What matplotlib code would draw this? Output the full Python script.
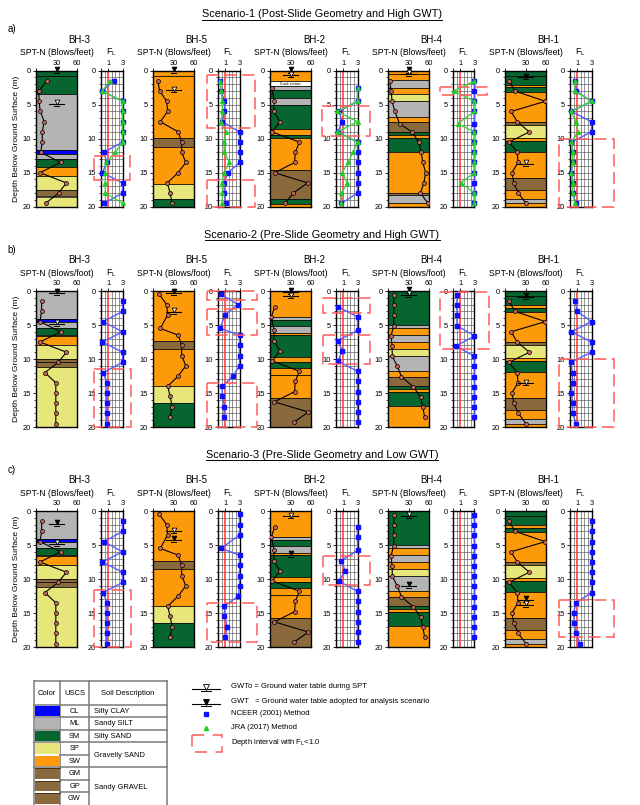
import matplotlib
matplotlib.use("Agg")
import matplotlib.pyplot as plt
import matplotlib.transforms as mtransforms
from matplotlib.patches import Rectangle

plt.rcParams['font.family'] = ['Liberation Sans', 'DejaVu Sans']

# ---------------- data ----------------
boreholes = ['BH-3', 'BH-5', 'BH-2', 'BH-4', 'BH-1']
scen_titles = ['Scenario-1 (Post-Slide Geometry and High GWT)',
               'Scenario-2 (Pre-Slide Geometry and High GWT)',
               'Scenario-3 (Pre-Slide Geometry and Low GWT)']
scen_tags = ['a)', 'b)', 'c)']
spt_units = ['SPT-N (Blows/feet)', 'SPT-N (Blows/foot)', 'SPT-N (Blows/feet)']

soil_colors = {'CL': '#0000ff', 'ML': '#b4b4b4', 'SM': '#076630', 'SP': '#e6e67a',
               'SW': '#fd9a0a', 'GM': '#8a6a3c', 'GP': '#8a6a3c', 'GW': '#8a6a3c',
               'CR': '#ffffff'}

# soil layers (top, bottom, USCS)
lay_bh3_post = [(0, 0.8, 'SM'), (0.8, 3.4, 'SM'), (3.4, 11.7, 'ML'), (11.7, 12.2, 'CL'),
                (12.2, 13.0, 'ML'), (13.0, 14.2, 'SM'), (14.2, 15.5, 'SW'), (15.5, 17.5, 'SP'),
                (17.5, 18.5, 'GM'), (18.5, 20, 'SP')]
lay_bh5_post = [(0, 0.8, 'SW'), (0.8, 9.9, 'SW'), (9.9, 11.2, 'GM'), (11.2, 16.6, 'SW'),
                (16.6, 18.9, 'SP'), (18.9, 20, 'SM')]
lay_bh2_post = [(0, 1.5, 'SW'), (1.5, 2.3, 'CR'), (2.3, 2.8, 'ML'), (2.8, 4.0, 'SM'),
                (4.0, 5.0, 'ML'), (5.0, 8.6, 'SM'), (8.6, 9.5, 'SW'), (9.5, 9.9, 'SM'),
                (9.9, 14.6, 'SW'), (14.6, 18.8, 'GM'), (18.8, 19.6, 'SM'), (19.6, 20, 'SW')]
lay_bh4_post = [(0, 0.5, 'SW'), (0.5, 1.4, 'SW'), (1.4, 2.5, 'ML'), (2.5, 3.5, 'SW'),
                (3.5, 4.5, 'SP'), (4.5, 6.8, 'ML'), (6.8, 7.5, 'SW'), (7.5, 9.0, 'GM'),
                (9.0, 9.5, 'SM'), (9.5, 9.9, 'SW'), (9.9, 11.9, 'SM'), (11.9, 18.0, 'SW'),
                (18.0, 18.3, 'GM'), (18.3, 19.5, 'ML'), (19.5, 20, 'SW')]
lay_bh1 = [(0, 0.8, 'SM'), (0.8, 2.1, 'SM'), (2.1, 2.45, 'SW'), (2.45, 3.1, 'SM'),
           (3.1, 7.5, 'SW'), (7.5, 8.0, 'GM'), (8.0, 9.9, 'SP'), (9.9, 10.3, 'SW'),
           (10.3, 11.9, 'SM'), (11.9, 15.8, 'SW'), (15.8, 17.5, 'GM'), (17.5, 18.8, 'SW'),
           (18.8, 19.5, 'ML'), (19.5, 20, 'SW')]
lay_bh3_pre = [(0, 4.1, 'ML'), (4.1, 4.6, 'CL'), (4.6, 5.5, 'ML'), (5.5, 6.4, 'SM'),
               (6.4, 6.6, 'ML'), (6.6, 8.0, 'SW'), (8.0, 10.0, 'SP'), (10.0, 10.5, 'GM'),
               (10.5, 11.2, 'GM'), (11.2, 20, 'SP')]
lay_bh5_pre = [(0, 7.4, 'SW'), (7.4, 8.5, 'GM'), (8.5, 14.0, 'SW'), (14.0, 16.5, 'SP'),
               (16.5, 20, 'SM')]
lay_bh2_pre = [(0, 3.75, 'SW'), (3.75, 4.2, 'ML'), (4.2, 5.2, 'SM'), (5.2, 6.2, 'ML'),
               (6.2, 6.45, 'SW'), (6.45, 9.7, 'SM'), (9.7, 10.5, 'SW'), (10.5, 11.3, 'SM'),
               (11.3, 12.3, 'SW'), (12.3, 15.8, 'SW'), (15.8, 20, 'GM')]
lay_bh4_pre = [(0, 5.0, 'SM'), (5.0, 5.4, 'ML'), (5.4, 6.5, 'SW'), (6.5, 7.5, 'ML'),
               (7.5, 8.6, 'SW'), (8.6, 9.6, 'SP'), (9.6, 11.8, 'ML'), (11.8, 12.6, 'SW'),
               (12.6, 14.0, 'GM'), (14.0, 14.4, 'SM'), (14.4, 14.9, 'SW'), (14.9, 16.9, 'SM'),
               (16.9, 20, 'SW')]

# test depths (m)
d_std = [1.5, 3.0, 4.5, 6.0, 7.5, 9.0, 10.5, 12.0, 13.5, 15.0, 16.5, 18.0, 19.5]
d_bh2_post = [2.5, 4.5, 6.0, 7.5, 9.0, 10.5, 12.0, 13.5, 15.0, 16.5, 18.0, 19.5]
d_bh4_post = [1.5, 3.0, 4.5, 6.0, 7.8, 9.0, 10.5, 12.0, 13.5, 15.0, 16.5, 18.0, 19.5]
d_bh5_pre = [0.5, 2.0, 3.5, 5.5, 6.5, 8.0, 9.5, 11.0, 12.5, 14.0, 15.5, 17.0, 18.5]
d_bh2_pre = [2.3, 3.8, 5.8, 7.3, 8.8, 10.3, 11.8, 13.3, 14.8, 16.3, 17.8, 19.3]
d_bh4_pre = [0.6, 2.1, 3.6, 5.1, 6.6, 8.1, 9.6, 11.1, 12.6, 14.1, 15.6, 17.1, 18.6]

# SPT-N values
n_bh3_post = [15.5, 4.4, 4.4, 6.3, 12, 9.2, 9.2, 6.8, 36, 5.8, 44.5, 33, 14]
n_bh5_post = [6.8, 10, 20, 21.5, 10.7, 37, 42, 42, 48, 36.6, 21, 25, 28]
n_bh2_post = [2.4, 6.3, 5.4, 14.6, 3, 43, 37, 36, 6.8, 55, 34, 22]
n_bh4_post = [2.5, 4.5, 6, 10, 17, 35, 45, 48.5, 51, 55, 52.5, 47.5, 58.5]
n_bh1 = [5.9, 14.6, 59, 8.8, 18, 35.6, 5.9, 18, 19, 10, 13, 19.5, 30.7]
n_bh3_pre = [8.2, 8.2, 5.8, 36, 5.8, 44.5, 32.4, 13, 29, 29, 29, 29, 29]
n_bh5_pre = [9.3, 20, 21.5, 10.7, 37, 42, 42, 48, 37, 21.5, 25, 28, 25]
n_bh2_pre = [7, 2, 6, 5.6, 14.5, 3.5, 43, 37, 36, 6.5, 56, 35]
n_bh4_pre = [8.4, 8.4, 8.4, 8.4, 4.4, 5.9, 6.4, 13.8, 19.7, 37, 47.8, 51, 53.7]

# ground water tables (adopted GWT, GWTo during SPT), depth in m
gwt_a = [0.0, 0.0, 0.0, 0.0, 1.0]
gwto_a = [4.9, 2.9, 0.7, 0.5, 13.7]
gwt_b = [0.35, 0.35, 0.15, 0.0, 0.85]
gwto_b = [4.9, 3.1, 0.8, 0.6, 13.6]
gwt_c = [1.95, 4.3, 6.45, 11.0, 13.1]
gwto_c = [4.9, 3.0, 0.8, 0.7, 13.8]

# factor of safety FL  (NCEER / JRA)
ncer_a = [[1.75, 0.2, 3, 3, 3, 3, 3, 0.4, 0.8, 0.2, 3, 3, 0.4],
          [0.3, 0.45, 0.9, 0.9, 0.6, 3, 3, 3, 3, 1.4, 0.8, 0.9, 1.05],
          [3, 3, 0.4, 0.9, 0.25, 3, 3, 3, 3, 3, 3, 0.75],
          [3, 3, 3, 3, 3, 3, 3, 3, 3, 3, 3, 3, 3],
          [0.7, 0.85, 3, 0.2, 3, 3, 0.2, 0.35, 0.35, 0.2, 0.35, 0.35, 0.85]]
jra_a = [[1.2, 0.2, 3, 3, 3, 3, 3, 2.0, 0.7, 0.6, 0.6, 0.6, 3],
         [0.3, 0.45, 0.6, 0.6, 0.45, 1.15, 0.8, 0.9, 1.6, 0.8, 0.6, 0.6, 0.6],
         [3, 3, 0.2, 3, 0.2, 3, 2.35, 1.7, 0.85, 1.6, 0.75, 0.75],
         [3, 0.1, 3, 3, 0.65, 3, 3, 3, 3, 3, 1.1, 3, 3],
         [0.7, 0.7, 3, 0.1, 0.85, 1.1, 0.2, 0.35, 0.35, 0.2, 0.35, 0.35, 0.7]]
ncer_b = [[3, 3, 0.3, 3, 0.2, 3, 3, 0.3, 0.85, 0.8, 0.8, 0.8, 0.8],
          [0.45, 2.8, 0.95, 0.3, 3, 3, 3, 3, 2.1, 0.6, 0.6, 0.9, 0.8],
          [0.25, 3, 3, 0.25, 0.9, 0.25, 3, 3, 3, 3, 3, 3],
          [0.55, 0.55, 0.55, 0.55, 3, 0.4, 3, 3, 3, 3, 3, 3, 3],
          [0.7, 1.0, 3, 0.2, 3, 3, 0.1, 0.35, 0.35, 0.2, 0.35, 0.35, 0.85]]
ncer_c = [[3, 3, 0.4, 3, 0.2, 3, 3, 0.3, 0.85, 0.8, 0.8, 0.8, 0.8],
          [3, 3, 3, 0.45, 3, 3, 3, 3, 2.85, 0.9, 0.9, 1.3, 1.0],
          [3, 3, 3, 0.7, 1.3, 0.35, 3, 3, 3, 3, 3, 3],
          [3, 3, 3, 3, 3, 3, 3, 3, 3, 3, 3, 3, 3],
          [3, 3, 3, 3, 3, 3, 3, 3, 0.85, 0.5, 0.6, 0.85, 1.35]]

# depth intervals with FL<1.0 (top, bottom, FL left, FL right)
box_a = [[(12.6, 16.1, -0.95, 4.0)],
         [(0.6, 8.5, -1.6, 5.2), (16.1, 20.1, -1.6, 5.2)],
         [(5.2, 9.6, -1.9, 4.8)],
         [(2.45, 3.6, -1.8, 4.7)],
         [(10.1, 20.1, -1.5, 6.2)]]
box_b = [[(11.5, 20.0, -0.95, 4.2)],
         [(0.0, 1.3, -1.6, 5.5), (2.7, 6.4, -1.6, 5.5), (13.5, 20.0, -1.6, 5.5)],
         [(1.0, 3.25, -1.85, 4.7), (6.5, 10.7, -1.85, 4.7)],
         [(0.2, 8.5, -1.8, 5.0)],
         [(10.0, 20.0, -1.5, 6.2)]]
box_c = [[(11.6, 20.0, -0.95, 4.2)],
         [(13.5, 19.2, -1.6, 5.5)],
         [(6.55, 10.9, -1.85, 4.7)],
         [],
         [(13.1, 18.5, -1.5, 6.2)]]

# legend table
uscs_codes = ['CL', 'ML', 'SM', 'SP', 'SW', 'GM', 'GP', 'GW']

# ------------- per-row grouping -------------
layers_rows = [[lay_bh3_post, lay_bh5_post, lay_bh2_post, lay_bh4_post, lay_bh1],
               [lay_bh3_pre, lay_bh5_pre, lay_bh2_pre, lay_bh4_pre, lay_bh1],
               [lay_bh3_pre, lay_bh5_pre, lay_bh2_pre, lay_bh4_pre, lay_bh1]]
depth_rows = [[d_std, d_std, d_bh2_post, d_bh4_post, d_std],
              [d_std, d_bh5_pre, d_bh2_pre, d_bh4_pre, d_std],
              [d_std, d_bh5_pre, d_bh2_pre, d_bh4_pre, d_std]]
spt_rows = [[n_bh3_post, n_bh5_post, n_bh2_post, n_bh4_post, n_bh1],
            [n_bh3_pre, n_bh5_pre, n_bh2_pre, n_bh4_pre, n_bh1],
            [n_bh3_pre, n_bh5_pre, n_bh2_pre, n_bh4_pre, n_bh1]]
gwt_rows = [gwt_a, gwt_b, gwt_c]
gwto_rows = [gwto_a, gwto_b, gwto_c]
ncer_rows = [ncer_a, ncer_b, ncer_c]
jra_rows = [jra_a, None, None]
box_rows = [box_a, box_b, box_c]

# ---------------- figure ----------------
W, H = 640, 805
fig = plt.figure(figsize=(6.4, 8.05), dpi=100)
ov = fig.add_axes([0, 0, 1, 1])
ov.set_xlim(0, W)
ov.set_ylim(H, 0)
ov.axis('off')


def px_axes(x, y, w, h):
    return fig.add_axes([x / W, 1 - (y + h) / H, w / W, h / H])


row_top = [70.7, 291, 511]
row_h = 136
spt_left = [36, 153, 270, 388, 505]
fl_left = [101, 218, 336, 453, 570]
spt_w, fl_w = 41, 21.5
RED = '#ff5c5c'


def depth_axis(ax):
    ax.set_ylim(20, 0)
    ax.set_yticks([0, 5, 10, 15, 20])
    ax.set_yticks(range(21), minor=True)
    ax.tick_params(axis='y', which='major', labelsize=5.4, length=2.5, width=0.6, pad=1)
    ax.tick_params(axis='y', which='minor', length=1.5, width=0.5)
    ax.xaxis.tick_top()
    ax.tick_params(axis='x', labelsize=5.4, length=2, width=0.6, pad=0.8)
    for s in ax.spines.values():
        s.set_linewidth(1.0)


def water_mark(ax, x, d, filled, half=11, tri=3.4):
    ax.plot([x - half, x + half], [d, d], color='k', lw=0.8, clip_on=False, zorder=6)
    tr = mtransforms.offset_copy(ax.transData, fig=fig, y=tri * 0.4, units='points')
    ax.plot([x], [d], marker='v', ms=tri, mfc='k' if filled else 'white', mec='k',
            mew=0.6, transform=tr, clip_on=False, zorder=7)
    tr2 = mtransforms.offset_copy(ax.transData, fig=fig, y=-1.3, units='points')
    ax.plot([x - half * 0.35, x + half * 0.35], [d, d], color='k', lw=0.7,
            transform=tr2, clip_on=False, zorder=6)


for r in range(3):
    top = row_top[r]
    t = ov.text(322, top - 56.5, scen_titles[r], ha='center', va='center', fontsize=7.8)
    ov.text(12, top - 41.5, scen_tags[r], ha='center', va='center', fontsize=7)
    for i, bh in enumerate(boreholes):
        # SPT column
        ax = px_axes(spt_left[i], top, spt_w, row_h)
        for t0, t1, code in layers_rows[r][i]:
            ax.axhspan(t0, t1, fc=soil_colors[code], ec='k', lw=0.5, zorder=1)
            if code == 'CR':
                ax.text(30, (t0 + t1) / 2, 'Crack section', fontsize=2.4,
                        ha='center', va='center', zorder=2)
        ax.plot(spt_rows[r][i], depth_rows[r][i], color='k', lw=0.8, marker='o', ms=2.9,
                mfc='#c4665c', mec='k', mew=0.5, zorder=4)
        water_mark(ax, 30, gwt_rows[r][i], True)
        water_mark(ax, 30, gwto_rows[r][i], False)
        ax.set_xlim(0, 60)
        depth_axis(ax)
        ax.set_xticks([0, 30, 60])
        ax.set_xticklabels(['', '30', '60'])
        if i == 0:
            ax.set_ylabel('Depth Below Ground Surface (m)', fontsize=6.1, labelpad=2)

        # FL column
        fx = px_axes(fl_left[i], top, fl_w, row_h)
        for gx in [0.5, 1.5, 2.0, 2.5]:
            fx.axvline(gx, color='#555555', lw=0.45, zorder=1)
        for gd in range(1, 20):
            fx.axhline(gd, color='#555555', lw=0.45, zorder=1)
        fx.axvline(1, color='#ff3030', lw=1.1, zorder=2)
        fx.plot(ncer_rows[r][i], depth_rows[r][i], color='#5a5aff', lw=1.0, marker='s',
                ms=2.3, mfc='#1010ff', mec='#1010ff', clip_on=False, zorder=4)
        if jra_rows[r] is not None:
            fx.plot(jra_rows[r][i], depth_rows[r][i], color='#3fd23f', lw=1.0, marker='^',
                    ms=2.7, mfc='#22cc22', mec='#22cc22', clip_on=False, zorder=5)
        for b0, b1, x0, x1 in box_rows[r][i]:
            fx.add_patch(Rectangle((x0, b0), x1 - x0, b1 - b0, fill=False, ec=RED, lw=1.1,
                                   ls=(0, (8, 3.5)), clip_on=False, zorder=8))
        fx.set_xlim(0, 3)
        depth_axis(fx)
        fx.set_xticks([0, 1, 3])
        fx.set_xticklabels(['', '1', '3'])

        # labels
        ov.text((spt_left[i] + fl_left[i] + fl_w) / 2, top - 31, bh, ha='center',
                va='center', fontsize=7)
        ov.text(spt_left[i] + spt_w / 2, top - 18, spt_units[r], ha='center',
                va='center', fontsize=6.2)
        ov.text(fl_left[i] + fl_w / 2, top - 18, 'F$_\\mathregular{L}$', ha='center',
                va='center', fontsize=6.4)

# ---------------- legend table ----------------
gc = '#7a7a7a'
xs = [34, 60, 89, 167]
row_edges = [705, 717, 730, 742, 755, 767, 780, 792, 805]
for x in xs:
    ov.plot([x, x], [681, 805], color=gc, lw=1.1)
for y in [681, 705, 717, 730, 742, 767]:
    ov.plot([34, 167], [y, y], color=gc, lw=1.1)
for y in [755, 780, 792]:
    ov.plot([60, 89], [y, y], color=gc, lw=1.1)
ov.text(47, 693, 'Color', ha='center', va='center', fontsize=5.5)
ov.text(74.5, 693, 'USCS', ha='center', va='center', fontsize=5.5)
ov.text(128, 693, 'Soil Description', ha='center', va='center', fontsize=5.5)
for k, code in enumerate(uscs_codes):
    y0, y1 = row_edges[k], row_edges[k + 1]
    ov.add_patch(Rectangle((35, y0 + 0.8), 24.5, y1 - y0 - 1.6, fc=soil_colors[code],
                           ec='none', zorder=2))
    if code in ('GM', 'GP', 'GW'):
        ov.plot([35, 59.5], [y0 + 1, y0 + 1], color='#3a2a10', lw=0.6, zorder=3)
    ov.text(74.5, (y0 + y1) / 2, code, ha='center', va='center', fontsize=5.3)
ov.text(94, 711, 'Silty CLAY', va='center', fontsize=5.4)
ov.text(94, 723.5, 'Sandy SILT', va='center', fontsize=5.4)
ov.text(94, 736, 'Silty SAND', va='center', fontsize=5.4)
ov.text(94, 755, 'Gravelly SAND', va='center', fontsize=5.4)
ov.text(94, 787, 'Sandy GRAVEL', va='center', fontsize=5.4)

# ---------------- symbol legend ----------------
water_mark(ov, 206, 689, False, half=14, tri=4.5)
water_mark(ov, 206, 704, True, half=14, tri=4.5)
ov.plot([206], [713.5], marker='s', ms=2.6, color='#1010ff', ls='none')
ov.plot([206], [727.5], marker='^', ms=3, color='#22cc22', ls='none')
ov.add_patch(Rectangle((192, 735), 30, 17, fill=False, ec=RED, lw=1.1, ls=(0, (8, 5.5))))
ov.text(231, 686.5, 'GWTo = Ground water table during SPT', va='center', fontsize=5.5)
ov.text(231, 701.5, 'GWT   = Ground water table adopted for analysis scenario', va='center',
        fontsize=5.5)
ov.text(231, 713.5, 'NCEER (2001) Method', va='center', fontsize=5.5)
ov.text(231, 727.5, 'JRA (2017) Method', va='center', fontsize=5.5)
ov.text(231, 742, 'Depth interval with F$_\\mathregular{L}$<1.0', va='center', fontsize=5.5)

# underline scenario titles
fig.canvas.draw()
rend = fig.canvas.get_renderer()
for txt in ov.texts:
    if txt.get_text().startswith('Scenario'):
        bb = txt.get_window_extent(rend)
        yy = H - bb.y0 + 0.5
        ov.plot([bb.x0, bb.x1], [yy, yy], color='k', lw=0.7)

fig.savefig('out.png', dpi=100)
